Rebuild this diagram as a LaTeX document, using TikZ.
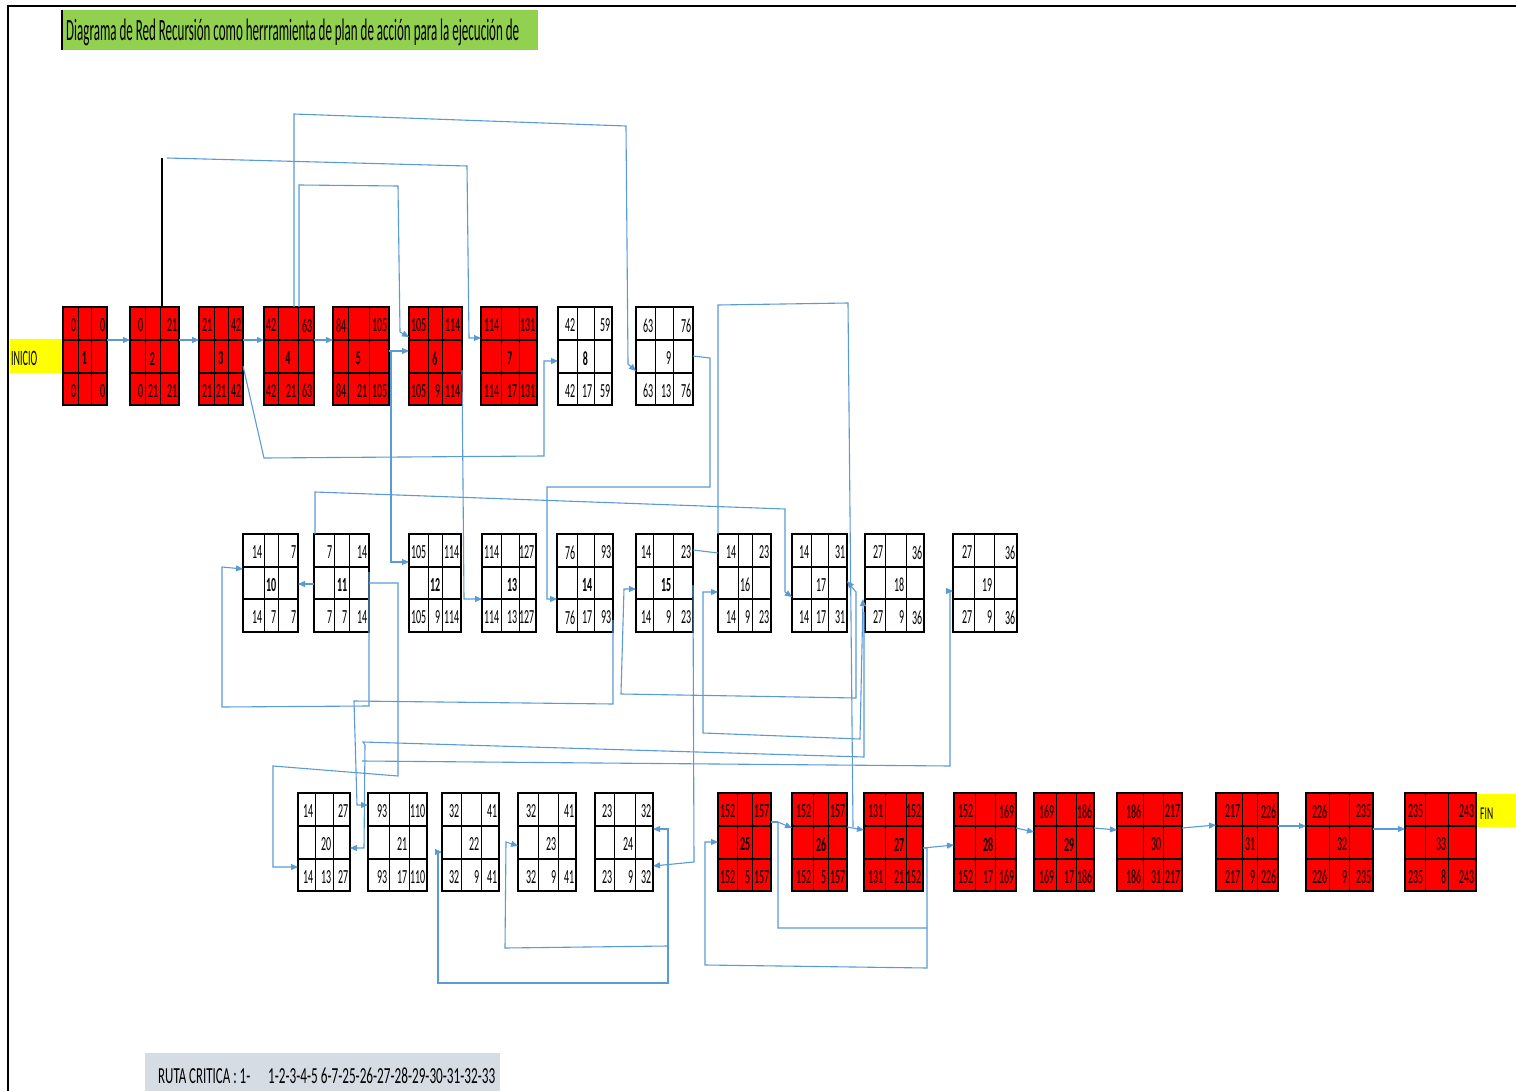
\documentclass[tikz,border=0pt]{standalone}
\usepackage{fontspec}
\setmainfont{Carlito}
\newfontfamily\calib{Carlito}
\usepackage{graphicx}
\usetikzlibrary{arrows.meta}
\definecolor{cblue}{HTML}{5B9BD5}
\definecolor{pred}{HTML}{FF0000}
\definecolor{pyel}{HTML}{FFFF00}
\definecolor{pgreen}{HTML}{92D050}
\definecolor{pgrey}{HTML}{D6DCE4}

\tikzset{
  pbox/.style={rectangle, draw=none, inner sep=0pt, outer sep=0pt},
  hl/.style={draw=black, line width=1.6pt},
  vl/.style={draw=black, line width=0.9pt},
  pout/.style={draw=black, line width=1.6pt},
  num/.style={inner sep=0pt, font=\calib\fontsize{20}{20}\selectfont},
  con/.style={draw=cblue, line width=1.1pt},
  arr/.style={con, -{Triangle[length=7pt,width=6pt]}},
  arrtwo/.style={con, {Triangle[length=7pt,width=6pt]}-{Triangle[length=7pt,width=6pt]}},
}

\newif\ifmidc
\def\midfont{\bfseries}
\def\pertx#1/#2/#3/#4\relax{\def\xa{#1}\def\xb{#2}\def\xc{#3}\def\xd{#4}}
\newcommand\pnum[1]{\scalebox{0.5}[1]{#1}}
\newcommand\pert[9]{%
  \pertx#3\relax
  \node[pbox, fill=#2, minimum width={(\xd-\xa)*1pt}, minimum height={(\yd-\ya)*1pt}] (#1) at ({(\xa+\xd)/2},{(\ya+\yd)/2}) {};
  \draw[hl] (\xa,\yb) -- (\xd,\yb) (\xa,\yc) -- (\xd,\yc);
  \draw[vl] (\xb,\ya) -- (\xb,\yd) (\xc,\ya) -- (\xc,\yd);
  \draw[pout] (\xa,\ya) rectangle (\xd,\yd);
  \coordinate (#1-wl) at (\xa,\yb);
  \coordinate (#1-er) at (\xd,\yb);
  \node[num, anchor=east] (#1-tl) at ({\xb-1.5},{(\ya+\yb)/2+2}) {\pnum{#4}};
  \node[num, anchor=east] (#1-tr) at ({\xd-1.5},{(\ya+\yb)/2+2}) {\pnum{#5}};
  \ifmidc
    \node[num] (#1-m) at ({(\xb+\xc)/2},{(\yb+\yc)/2+2}) {\pnum{\midfont #6}};
  \else
    \node[num, anchor=east] (#1-m) at ({\xc-1.5},{(\yb+\yc)/2+2}) {\pnum{\midfont #6}};
  \fi
  \node[num, anchor=east] (#1-bl) at ({\xb-1.5},{(\yc+\yd)/2+2}) {\pnum{#7}};
  \node[num, anchor=east] (#1-bm) at ({\xc-1.5},{(\yc+\yd)/2+2}) {\pnum{#8}};
  \node[num, anchor=east] (#1-br) at ({\xd-1.5},{(\yc+\yd)/2+2}) {\pnum{#9}};
}

\begin{document}
\begin{tikzpicture}[x=1pt,y=-1pt]
\useasboundingbox (0,0) rectangle (1516,1091);
\fill[white] (0,0) rectangle (1516,1091);

% frame
\draw[black, line width=2pt] (1516,6) -- (8,6) -- (8,1091);

% title
\fill[pgreen] (62,10) rectangle (538,50);
\draw[black, line width=2pt] (62,10) -- (62,50);
\node[anchor=base west, inner sep=0pt, font=\calib\fontsize{31}{31}\selectfont] (title) at (66,41)
  {\resizebox{453pt}{\height}{Diagrama de Red Recursión como herrramienta de plan de acción para la ejecución de}};

% INICIO / FIN
\fill[pyel] (10,339) rectangle (62,373);
\node[anchor=base west, inner sep=0pt, font=\calib\fontsize{22}{22}\selectfont] (inicio) at (11,366)
  {\resizebox{26pt}{\height}{INICIO}};
\fill[pyel] (1476,794) rectangle (1516,827);
\node[anchor=base west, inner sep=0pt, font=\calib\fontsize{18}{18}\selectfont] (fin) at (1480,819)
  {\resizebox{13pt}{\height}{FIN}};

% ruta critica
\fill[pgrey] (145,1053) rectangle (500,1091);
\node[anchor=base west, inner sep=0pt, font=\calib\fontsize{23}{23}\selectfont] (ruta) at (158,1083)
  {\resizebox{92pt}{\height}{RUTA CRITICA : 1-}\hspace{18pt}\resizebox{227pt}{\height}{1-2-3-4-5 6-7-25-26-27-28-29-30-31-32-33}};

% ---------------- row 1
\def\ya{307}\def\yb{340}\def\yc{373}\def\yd{405}
\def\midfont{\bfseries}
\midctrue
\pert{n1}{pred}{63/78/91/107}{0}{0}{1}{0}{}{0}
\pert{n2}{pred}{130/145/160/179}{0}{21}{2}{0}{21}{21}
\pert{n3}{pred}{199/214/228/243}{21}{42}{3}{21}{21}{42}
\pert{n4}{pred}{264/278/298/314}{42}{63}{4}{42}{21}{63}
\pert{n5}{pred}{333/348/369/389}{84}{105}{5}{84}{21}{105}
\pert{n6}{pred}{409/428/442/462}{105}{114}{6}{105}{9}{114}
\pert{n7}{pred}{481/501/519/537}{114}{131}{7}{114}{17}{131}
\pert{n8}{white}{558/577/594/612}{42}{59}{8}{42}{17}{59}
\midcfalse
\def\midfont{}
\pert{n9}{white}{636/655/673/693}{63}{76}{9}{63}{13}{76}

% ---------------- row 2
\def\ya{534}\def\yb{567}\def\yc{599}\def\yd{632}
\def\midfont{\bfseries}
\pert{n10}{white}{243/264/278/298}{14}{7}{10}{14}{7}{7}
\pert{n11}{white}{314/334/349/369}{7}{14}{11}{7}{7}{14}
\pert{n12}{white}{409/428/442/461}{105}{114}{12}{105}{9}{114}
\pert{n13}{white}{482/501/519/536}{114}{127}{13}{114}{13}{127}
\pert{n14}{white}{557/577/594/613}{76}{93}{14}{76}{17}{93}
\pert{n15}{white}{636/653/673/693}{14}{23}{15}{14}{9}{23}
\def\midfont{}
\pert{n16}{white}{718/738/752/771}{14}{23}{16}{14}{9}{23}
\pert{n17}{white}{792/811/828/847}{14}{31}{17}{14}{17}{31}
\pert{n18}{white}{865/885/906/924}{27}{36}{18}{27}{9}{36}
\pert{n19}{white}{953/974/994/1017}{27}{36}{19}{27}{9}{36}

% ---------------- row 3
\def\ya{793}\def\yb{826}\def\yc{859}\def\yd{891}
\def\midfont{}
\pert{n20}{white}{298/315/333/350}{14}{27}{20}{14}{13}{27}
\pert{n21}{white}{368/389/409/427}{93}{110}{21}{93}{17}{110}
\pert{n22}{white}{442/461/481/499}{32}{41}{22}{32}{9}{41}
\pert{n23}{white}{518/538/558/576}{32}{41}{23}{32}{9}{41}
\pert{n24}{white}{595/614/635/653}{23}{32}{24}{23}{9}{32}
\def\midfont{\bfseries}
\pert{n25}{pred}{718/737/752/771}{152}{157}{25}{152}{5}{157}
\pert{n26}{pred}{792/813/828/847}{152}{157}{26}{152}{5}{157}
\pert{n27}{pred}{864/885/906/923}{131}{152}{27}{131}{21}{152}
\pert{n28}{pred}{954/975/995/1016}{152}{169}{28}{152}{17}{169}
\pert{n29}{pred}{1034/1056/1076/1094}{169}{186}{29}{169}{17}{186}
\def\midfont{}
\pert{n30}{pred}{1117/1143/1163/1182}{186}{217}{30}{186}{31}{217}
\pert{n31}{pred}{1216/1242/1257/1278}{217}{226}{31}{217}{9}{226}
\pert{n32}{pred}{1306/1329/1349/1373}{226}{235}{32}{226}{9}{235}
\pert{n33}{pred}{1405/1425/1448/1476}{235}{243}{33}{235}{8}{243}

% ---------------- connectors, row 1
\draw[arr] (n1-er) -- (n2-wl);
\draw[arr] (n2-er) -- (n3-wl);
\draw[arr] (n3-er) -- (n4-wl);
\draw[arr] (n4-er) -- (n5-wl);
\draw[arr] (n5.east |- 0,351) -- (n6.west |- 0,351);

% over the top
\draw[black, line width=1.1pt] (n2.north -| 162,0) -- (162,158);
\draw[arr] (167,158) -- (467,166) -- (469,338) -- (n7.west |- 0,338);
\draw[arr] (n4.north -| 294,0) -- (294,114) -- (626,126) -- (628,364) -- (n9.west |- 0,371);
\draw[arr] (n4.north -| 299,0) -- (299,185) -- (398,186) -- (400,332) -- (n6.west |- 0,337);

% between rows 1 and 2
\draw[arr] (n3.east |- 0,366) -- (264,458) -- (544,456) -- (544,361) -- (n8.west |- 0,361);
\draw[arr] (n5.east |- 0,351) -- (391,351) -- (391,562) -- (n12.west |- 0,562);
\draw[arr] (n6.east |- 0,370) -- (464,599) -- (n13.west |- 0,599);
\draw[arr] (n9.east |- 0,356) -- (710,358) -- (710,487) -- (547,487) -- (547,599) -- (n14.west |- 0,599);
\draw[arr] (n11.north -| 315,0) -- (315,492) -- (785,509) -- (785,592) -- (n17.west |- 0,597);
\draw[con] (n16.north west) -- (718,305) -- (848,303) -- (853,827);
\draw[con] (n15.east |- 0,550) -- (n16.west |- 0,553);

% row 2 and below
\draw[arr] (n11.east |- 0,572) -- (369,706) -- (222,707) -- (222,567) -- (n10.west |- 0,569);
\draw[arr] (n11.west |- 0,584) -- (n10.east |- 0,584);
\draw[arr] (n11.east |- 0,583) -- (398,583) -- (398,776) -- (273,766) -- (273,867) -- (n20.west |- 0,867);
\draw[arr] (n14.east |- 0,620) -- (613,704) -- (354,701) -- (357,805) -- (n21.west |- 0,805);
\draw[arrtwo] (n17.east |- 0,581) -- (856,592) -- (856,698) -- (621,694) -- (624,589) -- (n15.west |- 0,589);
\draw[arrtwo] (863,599) -- (860,739) -- (703,733) -- (703,592) -- (n16.west |- 0,592);
\draw[arr] (864,612) -- (864,757) -- (363,742) -- (365,745) -- (364,848) -- (n20.east |- 0,848);
\draw[arr] (362,761) -- (950,766) -- (950,591) -- (n19.west |- 0,591);
\draw[arr] (n15.east |- 0,585) -- (694,862) -- (n24.east |- 0,866);

% row 3
\draw[arrtwo] (n24.east |- 0,829) -- (668,829) -- (668,983) -- (438,983) -- (438,852) -- (n22.west |- 0,852);
\draw[arr] (668,946) -- (505,948) -- (506,842) -- (n23.west |- 0,846);
\draw[arr] (n27.east |- 0,848) -- (927,848) -- (927,968) -- (705,965) -- (705,842) -- (n25.west |- 0,842);
\draw[arr] (927,928) -- (778,928) -- (778,822) -- (n26.west |- 0,828);
\draw[con] (n25.east |- 0,822) -- (778,822);
\draw[arr] (n26.east |- 0,827) -- (n27.west |- 0,830);
\draw[arr] (n27.east |- 0,848) -- (n28.west |- 0,845);
\draw[arr] (n28.east |- 0,828) -- (n29.west |- 0,832);
\draw[arr] (n29.east |- 0,828) -- (n30.west |- 0,830);
\draw[arr] (n30.east |- 0,828) -- (n31.west |- 0,825);
\draw[arr] (n31.east |- 0,826) -- (n32.west |- 0,826);
\draw[arr] (n32.east |- 0,829) -- (n33.west |- 0,829);
\end{tikzpicture}
\end{document}
